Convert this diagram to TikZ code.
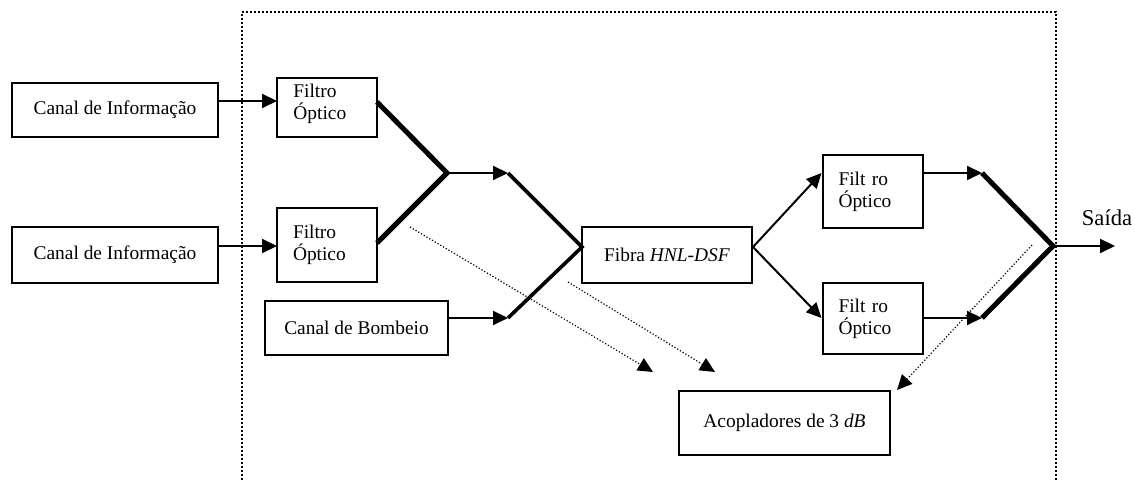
\documentclass[tikz,border=0pt]{standalone}
\usepackage{fontspec}
\setmainfont{Liberation Serif}
\usetikzlibrary{arrows.meta}
\tikzset{
  flowarrow/.style={-{Triangle[length=7.5pt,width=7pt]}, line width=1pt},
  taparrow/.style={-{Triangle[length=7.5pt,width=7pt]}, densely dotted, line width=0.6pt},
  block/.style={draw, line width=1pt, align=center},
  filterbox/.style={draw, line width=1pt, align=left, text width=34pt, inner xsep=8pt},
  coupler/.style={line width=2.5pt},
  coupler2/.style={line width=1.8pt},
  frame/.style={densely dotted, line width=1pt}
}

\begin{document}
\begin{tikzpicture}[x=0.5pt, y=-0.5pt, every node/.style={font=\fontsize{9.7}{11}\selectfont}]
  \useasboundingbox (0,0) rectangle (1135,480);

  % dotted frame round the processing stage
  \draw[frame] (242,480) -- (242,12) -- (1056,12) -- (1056,480);

  % blocks
  \node[block, minimum width=103pt, minimum height=27pt] (info1) at (115,110) {Canal de Informação};
  \node[block, minimum width=103pt, minimum height=28pt] (info2) at (115,255) {Canal de Informação};
  \node[filterbox, minimum height=29.5pt] (filt1) at (327,107.5) {};
  \node[align=left, anchor=north west, inner sep=0pt] (filt1txt) at (293,84) {Filtro\\Óptico};
  \node[filterbox, minimum height=37pt] (filt2) at (327,245) {Filtro\\Óptico};
  \node[block, minimum width=91.5pt, minimum height=27pt] (bomb) at (356.5,328) {Canal de Bombeio};
  \node[block, minimum width=85pt, minimum height=28pt] (fibra) at (667,255) {Fibra \textit{HNL-DSF}};
  \node[filterbox, minimum height=36.5pt] (filt3) at (872.5,191.5) {Filt ro\\Óptico};
  \node[filterbox, minimum height=35.5pt] (filt4) at (872.5,318.5) {Filt ro\\Óptico};
  \node[block, minimum width=105.5pt, minimum height=32pt] (acop) at (784.5,423) {Acopladores de 3 \textit{dB}};
  \node[font=\fontsize{11.3}{13}\selectfont] (saida) at (1107,218) {Saída};

  % ports and coupler joints
  \coordinate (in1) at (277,101);
  \coordinate (in2) at (277,246);
  \coordinate (o1) at (377,102);
  \coordinate (o2) at (377,243);
  \coordinate (j1) at (447,173);
  \coordinate (c2a) at (508,173);
  \coordinate (j2) at (582,247);
  \coordinate (c2b) at (508,318);
  \coordinate (c3a) at (982,173);
  \coordinate (c3b) at (982,318);
  \coordinate (j3) at (1053,246);
  \coordinate (out) at (1115,246);

  % signal path
  \draw[flowarrow] (info1.east |- in1) -- (in1);
  \draw[flowarrow] (info2.east |- in2) -- (in2);
  \draw[coupler] (o1) -- (j1) -- (o2);
  \draw[flowarrow] (j1) -- (c2a);
  \draw[coupler2] (c2a) -- (j2) -- (c2b);
  \draw[flowarrow] (bomb.east |- c2b) -- (c2b);
  \draw[flowarrow] (fibra.east |- j2) -- (filt3.west |- c3a);
  \draw[flowarrow] (fibra.east |- j2) -- (filt4.west |- c3b);
  \draw[flowarrow] (filt3.east |- c3a) -- (c3a);
  \draw[flowarrow] (filt4.east |- c3b) -- (c3b);
  \draw[coupler] (c3a) -- (j3) -- (c3b);
  \draw[flowarrow] (j3) -- (out);

  % pointers to the 3 dB couplers
  \coordinate (t1) at (410,227);
  \coordinate (t2) at (568,282);
  \coordinate (t3) at (1032,245);
  \coordinate (a1) at (653,372);
  \coordinate (a2) at (715,372);
  \coordinate (a3) at (897,390);
  \draw[taparrow] (t1) -- (a1);
  \draw[taparrow] (t2) -- (a2);
  \draw[taparrow] (t3) -- (a3);
\end{tikzpicture}
\end{document}
